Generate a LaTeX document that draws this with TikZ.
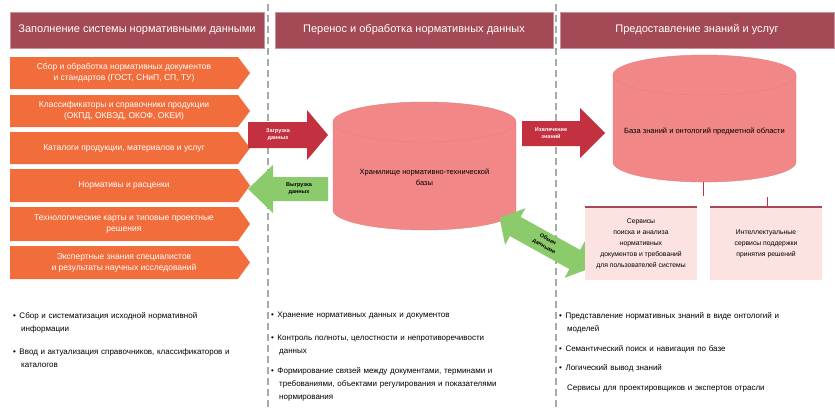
\documentclass[tikz,border=0pt]{standalone}
\usepackage{fontspec}
\setmainfont{Liberation Sans}
\definecolor{hdr}{HTML}{A44A56}
\definecolor{org}{HTML}{F26D3C}
\definecolor{crim}{HTML}{C3303F}
\definecolor{grn}{HTML}{8CCB6C}
\definecolor{cyl}{HTML}{F28787}
\definecolor{pinkbox}{HTML}{FDE2E2}
\definecolor{sepc}{HTML}{A3ABAB}
\tikzset{
  hdrbox/.style={fill=hdr, draw=hdr!60!white, line width=0.6pt, text=white, inner sep=0pt,
    font=\fontsize{11}{13}\selectfont},
  orgtext/.style={text=white, align=center, inner sep=0pt, font=\fontsize{8.5}{11}\selectfont},
  arrtext/.style={align=center, inner sep=0pt, font=\fontsize{5.5}{7}\selectfont\bfseries},
  cyltext/.style={align=center, inner sep=0pt, font=\fontsize{7.5}{11}\selectfont},
  svcbox/.style={fill=pinkbox, inner sep=0pt, minimum width=112pt, minimum height=73pt,
    align=center, font=\fontsize{6.8}{11}\selectfont},
  bultext/.style={anchor=north west, inner sep=0pt, text width=260pt, align=left,
    font=\fontsize{8}{13}\selectfont},
  sepline/.style={sepc, line width=1.6pt, dash pattern=on 7pt off 4pt},
  cylline/.style={draw=cyl!85!hdr, line width=0.4pt}
}
\newcommand{\orgrow}[4]{%
  \fill[org] (10,#2) -- (238,#2) -- (250,{(#2+#3)/2}) -- (238,#3) -- (10,#3) -- cycle;
  \node[orgtext] (#1) at (124,{(#2+#3)/2}) {#4};}
\newcommand{\bul}[1]{\hangindent=8pt\hangafter=1 \textbullet\hspace{3.5pt}#1\par}
\begin{document}
\begin{tikzpicture}[x=1pt,y=-1pt]
\useasboundingbox (0,0) rectangle (835,410);
\fill[white] (0,0) rectangle (835,410);

% separators
\draw[sepline] (268,4) -- (268,410);
\draw[sepline] (556,4) -- (556,410);

% headers
\node[hdrbox, minimum width=254pt, minimum height=36pt] (h1) at (137,30) {Заполнение системы нормативными данными};
\node[hdrbox, minimum width=278pt, minimum height=36pt] (h2) at (414,30) {Перенос и обработка нормативных данных};
\node[hdrbox, minimum width=274pt, minimum height=36pt] (h3) at (697,30) {Предоставление знаний и услуг};

% orange source rows
\orgrow{o1}{57}{89}{Сбор и обработка нормативных документов\\и стандартов (ГОСТ, СНиП, СП, ТУ)}
\orgrow{o2}{95}{127}{Классификаторы и справочники продукции\\(ОКПД, ОКВЭД, ОКОФ, ОКЕИ)}
\orgrow{o3}{132}{164}{Каталоги продукции, материалов и услуг}
\orgrow{o4}{169}{202}{Нормативы и расценки}
\orgrow{o5}{207}{241}{Технологические карты и типовые проектные\\решения}
\orgrow{o6}{246}{279}{Экспертные знания специалистов\\и результаты научных исследований}

% load arrow (red, right)
\fill[crim] (248,122) -- (307,122) -- (307,110) -- (328,135) -- (307,160) -- (307,148) -- (248,148) -- cycle;
\node[arrtext, text=white] (a1) at (278,135) {Загрузка\\данных};

% unload arrow (green, left)
\fill[grn] (248,189) -- (273,165) -- (273,177) -- (328,177) -- (328,201) -- (273,201) -- (273,213) -- cycle;
\node[arrtext, text=black] (a2) at (299,189) {Выгрузка\\данных};

% cylinder 1
\fill[cyl] (333,122) -- (333,210) arc[start angle=180, end angle=0, x radius=91.5, y radius=20]
  -- (516,122) arc[start angle=360, end angle=180, x radius=91.5, y radius=20] -- cycle;
\draw[cylline] (333,122) -- (333,210) arc[start angle=180, end angle=0, x radius=91.5, y radius=20]
  -- (516,122) arc[start angle=360, end angle=180, x radius=91.5, y radius=20] -- cycle;
\draw[cylline] (333,122) arc[start angle=180, end angle=0, x radius=91.5, y radius=20];
\node[cyltext] (db1) at (424.5,177) {Хранилище нормативно-технической\\базы};

% extraction arrow (red, right)
\fill[crim] (522,121) -- (580,121) -- (580,108) -- (605,133) -- (580,158) -- (580,146) -- (522,146) -- cycle;
\node[arrtext, text=white] (a3) at (551,133) {Извлечение\\знаний};

% exchange double arrow (green)
\begin{scope}[shift={(545,243)}, rotate=-29]
\fill[grn] (-52,0) -- (-34,-21) -- (-34,-11) -- (34,-11) -- (34,-21) -- (52,0) -- (34,21) -- (34,11) -- (-34,11) -- (-34,21) -- cycle;
\end{scope}
\node[arrtext, text=black, rotate=-29, font=\fontsize{5.5}{8}\selectfont\bfseries] (a4) at (546,243) {Обмен\\данными};

% cylinder 2
\fill[cyl] (613,75) -- (613,162) arc[start angle=180, end angle=0, x radius=91.5, y radius=20]
  -- (796,75) arc[start angle=360, end angle=180, x radius=91.5, y radius=20] -- cycle;
\draw[cylline] (613,75) -- (613,162) arc[start angle=180, end angle=0, x radius=91.5, y radius=20]
  -- (796,75) arc[start angle=360, end angle=180, x radius=91.5, y radius=20] -- cycle;
\draw[cylline] (613,75) arc[start angle=180, end angle=0, x radius=91.5, y radius=20];
\node[cyltext] (kb) at (704.5,131) {База знаний и онтологий предметной области};
\coordinate (kbs) at (703,182);

% service boxes
\node[svcbox] (s1) at (641,243.5) {Сервисы\\поиска и анализа\\нормативных\\документов и требований\\для пользователей системы};
\node[svcbox] (s2) at (766,243.5) {Интеллектуальные\\сервисы поддержки\\принятия решений};
\draw[hdr, line width=1.5pt] (s1.north west) -- (s1.north east);
\draw[hdr, line width=1.5pt] (s2.north west) -- (s2.north east);
\draw[crim, line width=1pt] (kbs) -- ++(0,14);
\draw[crim, line width=1pt] (s2.north) ++(1,-1) -- ++(0,-9);

% bullet texts
\node[bultext] (t1) at (13,312) {\bul{Сбор и систематизация исходной нормативной\newline информации}\vspace{10pt}\bul{Ввод и актуализация справочников, классификаторов и\newline каталогов}};
\node[bultext] (t2) at (271,312) {\bul{Хранение нормативных данных и документов}\vspace{10pt}\bul{Контроль полноты, целостности и непротиворечивости\newline данных}\vspace{7pt}\bul{Формирование связей между документами, терминами и\newline требованиями, объектами регулирования и показателями\newline нормирования}};
\node[bultext] (t3) at (559,312) {\bul{Представление нормативных знаний в виде онтологий и\newline моделей}\vspace{7pt}\bul{Семантический поиск и навигация по базе}\vspace{6pt}\bul{Логический вывод знаний}\vspace{7pt}\hspace*{8pt}Сервисы для проектировщиков и экспертов отрасли\par};
\end{tikzpicture}
\end{document}
